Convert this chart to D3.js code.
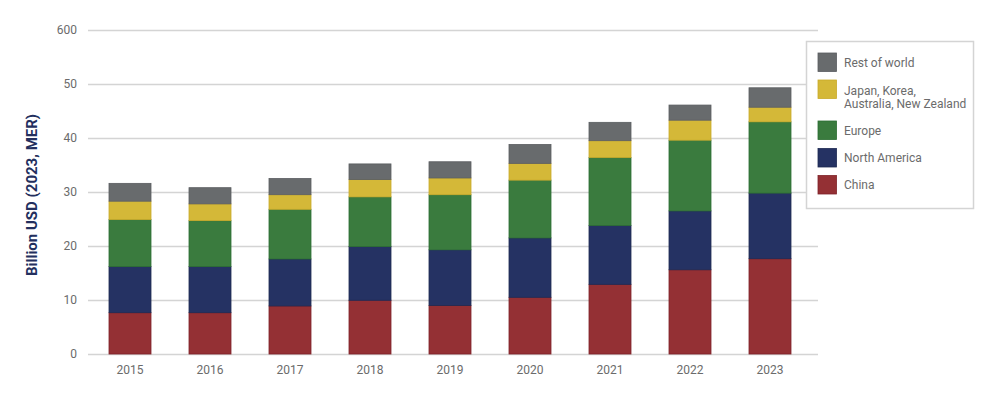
<!DOCTYPE html>
<html>
<head>
<meta charset="utf-8">
<script src="https://cdn.jsdelivr.net/npm/d3@7"></script>
<style>
  body { margin: 0; background: #fff; }
  svg text { font-family: Roboto, "Liberation Sans", sans-serif; }
</style>
</head>
<body>
<div id="chart"></div>
<script>
let years = ["2015", "2016", "2017", "2018", "2019", "2020", "2021", "2022", "2023"];

let china        = [7.65, 7.65, 8.9, 9.95, 9.0, 10.5, 12.9, 15.6, 17.65];
let northAmerica = [8.55, 8.55, 8.7, 9.95, 10.3, 11.0, 10.9, 10.9, 12.15];
let europe       = [8.7, 8.5, 9.2, 9.2, 10.2, 10.7, 12.6, 13.1, 13.2];
let japanKorea   = [3.4, 3.1, 2.7, 3.2, 3.1, 3.1, 3.1, 3.7, 2.7];
let restOfWorld  = [3.3, 3.0, 3.0, 2.9, 3.0, 3.5, 3.4, 2.8, 3.6];

let yTicks      = [0, 10, 20, 30, 40, 50, 60];
let yTickLabels = ["0", "10", "20", "30", "40", "50", "600"];

let seriesNames = ["China", "North America", "Europe", "Japan, Korea, Australia, New Zealand", "Rest of world"];
let seriesData  = [china, northAmerica, europe, japanKorea, restOfWorld];
let colors      = ["#943034", "#253263", "#3a7b3e", "#d4b838", "#686b6d"];
let strokes     = ["#7e2228", "#1d2852", "#2c6e32", "#c9aa2a", "#5a5d60"];

let width = 1000, height = 394;

let svg = d3.select("#chart")
  .append("svg")
    .attr("width", width)
    .attr("height", height);

let x = d3.scaleBand()
  .domain(years)
  .range([90, 810])
  .paddingInner(0.475)
  .paddingOuter(0.2375);

let y = d3.scaleLinear()
  .domain([0, 60])
  .range([354, 30]);

// table for the stack
let table = years.map(function(yr, i) {
  let row = {year: yr};
  seriesNames.forEach(function(s, j) { row[s] = seriesData[j][i]; });
  return row;
});

let stack = d3.stack().keys(seriesNames)(table);

// gridlines + y labels
let yAxis = svg.append("g")
  .attr("transform", "translate(88,0)")
  .call(d3.axisLeft(y)
    .tickValues(yTicks)
    .tickSize(-730)
    .tickPadding(11)
    .tickFormat(function(d, i) { return yTickLabels[i]; }));

yAxis.select(".domain").remove();
yAxis.selectAll(".tick line").attr("stroke", "#d4d4d4").attr("stroke-width", 1.5);
yAxis.selectAll(".tick text")
  .attr("fill", "#6b6b6b")
  .attr("font-size", 12);

// bars
let layers = svg.selectAll(".layer")
  .data(stack)
  .enter()
  .append("g")
    .attr("class", "layer")
    .attr("fill", function(d, i) { return colors[i]; })
    .attr("stroke", function(d, i) { return strokes[i]; });

layers.selectAll("rect")
  .data(function(d) { return d; })
  .enter()
  .append("rect")
    .attr("x", function(d) { return x(d.data.year); })
    .attr("y", function(d) { return y(d[1]); })
    .attr("width", x.bandwidth())
    .attr("height", function(d) { return y(d[0]) - y(d[1]); })
    .attr("stroke-width", 0.8);

// x axis labels
let xAxis = svg.append("g")
  .attr("transform", "translate(0,354)")
  .call(d3.axisBottom(x).tickSize(0).tickPadding(11));

xAxis.select(".domain").remove();
xAxis.selectAll(".tick text")
  .attr("fill", "#6b6b6b")
  .attr("font-size", 12);

// y axis title
svg.append("text")
  .attr("transform", "translate(37,195) rotate(-90)")
  .attr("text-anchor", "middle")
  .attr("fill", "#232f5e")
  .attr("font-size", 15)
  .attr("font-weight", "bold")
  .text("Billion USD (2023, MER)");

// legend
let legend = svg.append("g");

legend.append("rect")
  .attr("x", 806.5)
  .attr("y", 41.5)
  .attr("width", 167)
  .attr("height", 167)
  .attr("fill", "#fff")
  .attr("stroke", "#d4d4d4")
  .attr("stroke-width", 1.5);

let legendItems = [
  {i: 4, sy: 53,  lines: ["Rest of world"]},
  {i: 3, sy: 80,  lines: ["Japan, Korea,", "Australia, New Zealand"]},
  {i: 2, sy: 121, lines: ["Europe"]},
  {i: 1, sy: 148.5, lines: ["North America"]},
  {i: 0, sy: 175.5, lines: ["China"]}
];

let li = legend.selectAll(".item")
  .data(legendItems)
  .enter()
  .append("g")
    .attr("class", "item");

li.append("rect")
  .attr("x", 818)
  .attr("y", function(d) { return d.sy; })
  .attr("width", 18.5)
  .attr("height", 18.5)
  .attr("fill", function(d) { return colors[d.i]; })
  .attr("stroke", function(d) { return strokes[d.i]; })
  .attr("stroke-width", 0.8);

li.each(function(d) {
  let t = d3.select(this).append("text")
    .attr("x", 844)
    .attr("y", d.lines.length == 1 ? d.sy + 13.5 : d.sy + 15)
    .attr("fill", "#6b6b6b")
    .attr("font-size", 12);
  d.lines.forEach(function(l, k) {
    t.append("tspan").attr("x", 844).attr("dy", k == 0 ? 0 : 13).text(l);
  });
});
</script>
</body>
</html>
